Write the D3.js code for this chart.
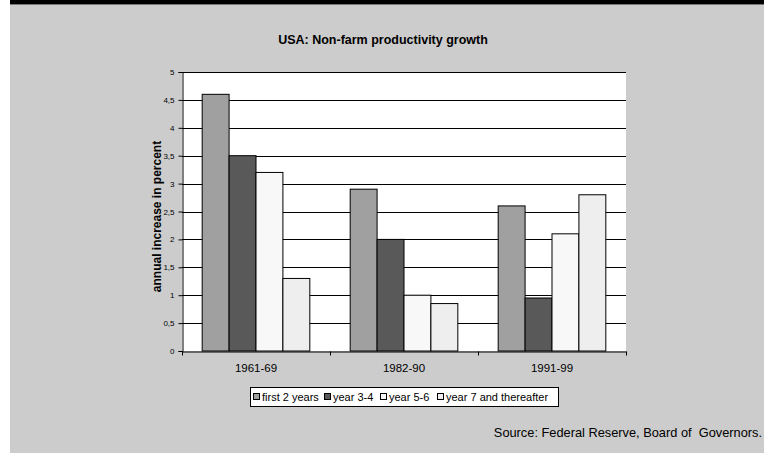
<!DOCTYPE html>
<html><head><meta charset="utf-8">
<script src="https://cdn.jsdelivr.net/npm/d3@7"></script>
<style>body{margin:0;background:#fff}svg{display:block}svg text{font-family:"Liberation Sans",Arial,sans-serif;white-space:pre}</style>
</head><body>
<svg id="c" width="764" height="453"></svg>
<script>
const categories = ["1961-69", "1982-90", "1991-99"];
const seriesNames = ["first 2 years", "year 3-4", "year 5-6", "year 7 and thereafter"];
const firstTwo = [4.6, 2.9, 2.6];
const year34 = [3.5, 2.0, 0.95];
const year56 = [3.2, 1.0, 2.1];
const year7 = [1.3, 0.85, 2.8];
const yTicks = [0, 0.5, 1, 1.5, 2, 2.5, 3, 3.5, 4, 4.5, 5];
const colors = ["#a0a0a0", "#595959", "#f8f8f8", "#eeeeee"];

const series = [firstTwo, year34, year56, year7];
const svg = d3.select("#c");
svg.append("rect").attr("x",10).attr("y",0).attr("width",754).attr("height",453).attr("fill","#cccccc");
svg.append("rect").attr("x",10).attr("y",0).attr("width",754).attr("height",4).attr("fill","#000");
svg.append("rect").attr("x",10).attr("y",4).attr("width",754).attr("height",1).attr("fill","#777");

const L=182, R=626, T=72, B=351;
const x0 = d3.scaleBand().domain(categories).range([L,R]).paddingInner(0).paddingOuter(0);
const y = d3.scaleLinear().domain([0,5]).range([B,T]);
const inner = d3.scaleBand().domain(d3.range(4)).range([0,x0.bandwidth()]).paddingInner(0).paddingOuter(0.75);

svg.append("rect").attr("x",L).attr("y",T).attr("width",R-L).attr("height",B-T).attr("fill","#fff");
const g = svg.append("g");
g.selectAll("line.grid").data(yTicks.filter(d=>d>0)).enter().append("line")
  .attr("x1",L).attr("x2",R).attr("y1",d=>Math.round(y(d))+0.5).attr("y2",d=>Math.round(y(d))+0.5)
  .attr("stroke","#000").attr("stroke-width",1);

const grp = g.selectAll("g.cat").data(categories).enter().append("g").attr("transform",d=>`translate(${x0(d)},0)`);
grp.each(function(c,i){
  const sel = d3.select(this);
  series.forEach((s,k)=>{
    sel.append("rect").attr("x",inner(k)).attr("width",inner.bandwidth())
      .attr("y",y(s[i])).attr("height",B-y(s[i]))
      .attr("fill",colors[k]).attr("stroke","#000").attr("stroke-width",1);
  });
});

// axes
const yAxis = d3.axisLeft(y).tickValues(yTicks).tickSize(4).tickFormat(d=>String(d).replace(".",","));
const ya = svg.append("g").attr("transform",`translate(${L+0.5},0)`).call(yAxis);
ya.attr("font-family",null);
ya.select(".domain").attr("stroke","#000");
ya.selectAll("text").attr("font-size",8).attr("fill","#000").attr("dx",-1);
const xAxis = d3.axisBottom(x0).tickSize(0);
const xa = svg.append("g").attr("transform",`translate(0,${B+0.5})`).call(xAxis);
xa.attr("font-family",null);
xa.select(".domain").attr("stroke","#000");
xa.selectAll("text").attr("font-size",11.5).attr("fill","#000").attr("dy","1.5em");
xa.selectAll("line.sep").data(d3.range(categories.length+1)).enter().append("line")
  .attr("x1",i=>L+i*x0.step()+0.5).attr("x2",i=>L+i*x0.step()+0.5).attr("y1",0).attr("y2",4).attr("stroke","#000");

svg.append("text").attr("x",383).attr("y",44).attr("text-anchor","middle").attr("font-size",12.5).attr("font-weight","bold").text("USA: Non-farm productivity growth");
svg.append("text").attr("transform",`translate(161,${(T+B)/2 + 5}) rotate(-90)`).attr("text-anchor","middle").attr("font-size",12).attr("font-weight","bold").text("annual increase in percent");

// legend
const lg = svg.append("g");
lg.append("rect").attr("x",250.5).attr("y",387.5).attr("width",308).attr("height",19).attr("fill","#fff").attr("stroke","#000");
const items = [{x:262,t:0},{x:333,t:1},{x:389,t:2},{x:446,t:3}];
items.forEach(it=>{
  lg.append("rect").attr("x",it.x-8.5).attr("y",393.5).attr("width",6).attr("height",6).attr("fill",colors[it.t]).attr("stroke","#000");
  lg.append("text").attr("x",it.x).attr("y",401).attr("font-size",11).text(seriesNames[it.t]);
});

svg.append("text").attr("x",762).attr("y",437).attr("text-anchor","end").attr("font-size",12.8).text("Source: Federal Reserve, Board of  Governors.");
</script>
</body></html>
